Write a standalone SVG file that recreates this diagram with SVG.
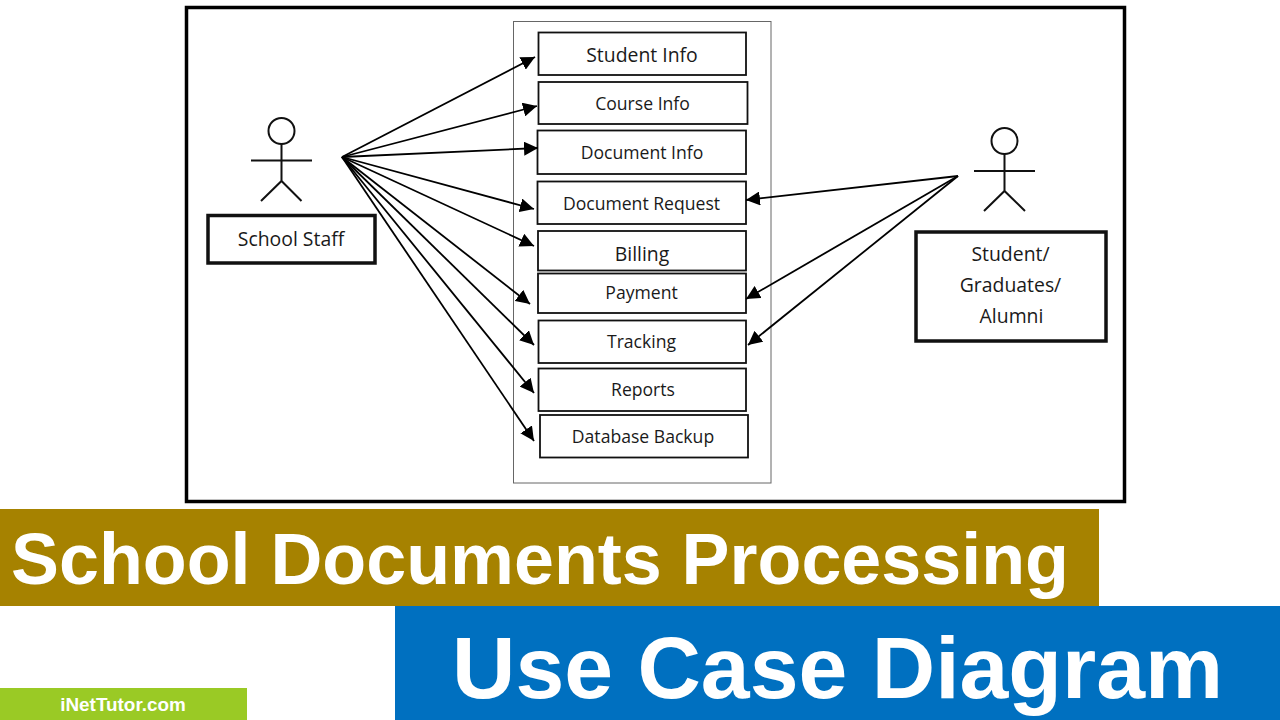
<svg xmlns="http://www.w3.org/2000/svg" width="1280" height="720" viewBox="0 0 1280 720">
<style>
.uc{fill:#fff;stroke:#111;stroke-width:1.800}
.actor{fill:#fff;stroke:#111;stroke-width:3.500}
.stick{fill:none;stroke:#111;stroke-width:2}
.lb{font-family:"Open Sans","Noto Sans",sans-serif;font-size:17.600px;fill:#1a1a1a;text-anchor:middle}
.lg{font-size:19.400px}
.ttl{font-family:"Liberation Sans",Arial,sans-serif;font-weight:bold;fill:#fff}
.c{stroke:#000;stroke-width:1.800;fill:none;marker-end:url(#a)}
</style>
<defs><marker id="a" markerUnits="userSpaceOnUse" markerWidth="14" markerHeight="14" refX="12" refY="6" orient="auto" viewBox="0 0 12 12"><path d="M0 0L12 6L0 12Z" fill="#000"/></marker></defs>
<rect width="1280" height="720" fill="#fff"/>
<rect id="frame" x="186.500" y="7.500" width="938" height="494" fill="#fff" stroke="#000" stroke-width="3.500"/>
<rect id="system" x="513.500" y="21.500" width="257.500" height="461.500" fill="#fff" stroke="#666" stroke-width="1"/>
<g id="n-student-info"><rect class="uc" x="538.500" y="32.500" width="207.500" height="42.500"/><text class="lb lg" x="642" y="62">Student Info</text></g>
<g id="n-course-info"><rect class="uc" x="538.500" y="82" width="209" height="42"/><text class="lb" x="642.500" y="109.500">Course Info</text></g>
<g id="n-document-info"><rect class="uc" x="537.500" y="130.500" width="208.500" height="43.500"/><text class="lb" x="642" y="158.500">Document Info</text></g>
<g id="n-document-request"><rect class="uc" x="537.500" y="181.500" width="208.500" height="42.500"/><text class="lb" x="641.500" y="209.500">Document Request</text></g>
<g id="n-billing"><rect class="uc" x="538" y="231" width="208" height="39.500"/><text class="lb lg" x="642" y="261">Billing</text></g>
<g id="n-payment"><rect class="uc" x="538" y="273.500" width="208" height="39.500"/><text class="lb" x="641.500" y="298.500">Payment</text></g>
<g id="n-tracking"><rect class="uc" x="538.500" y="320.500" width="207.500" height="42.500"/><text class="lb" x="641.500" y="347.500">Tracking</text></g>
<g id="n-reports"><rect class="uc" x="538.500" y="368.500" width="207.500" height="42.500"/><text class="lb" x="643" y="395.500">Reports</text></g>
<g id="n-database-backup"><rect class="uc" x="540" y="415" width="208" height="42.500"/><text class="lb" x="643" y="442.500">Database Backup</text></g>
<g id="n-school-staff">
<circle class="stick" cx="281.500" cy="131" r="13"/><path class="stick" d="M281.500 144V181M251 160.500H312M261 201L281.500 181L301.500 201"/>
<rect class="actor" x="208" y="215.500" width="167" height="47.500"/><text class="lb lg" x="291" y="246">School Staff</text></g>
<g id="n-student">
<circle class="stick" cx="1004.500" cy="141" r="13"/><path class="stick" d="M1004.500 154V191M974 171H1035M984 211L1004.500 191L1025 211"/>
<rect class="actor" x="916" y="232" width="190" height="109"/>
<text class="lb lg" x="1010.500" y="261">Student/</text><text class="lb lg" x="1010.500" y="292">Graduates/</text><text class="lb lg" x="1011.500" y="323">Alumni</text></g>
<g id="connectors">
<path class="c" d="M342 157L535 57"/><path class="c" d="M342 157L537 106"/><path class="c" d="M342 157L538 148"/><path class="c" d="M342 157L534 209"/><path class="c" d="M342 157L534 246"/><path class="c" d="M342 157L530 304"/><path class="c" d="M342 157L534 345"/><path class="c" d="M342 157L534 393"/><path class="c" d="M342 157L534 441"/>
<path class="c" d="M958 176L746 200"/><path class="c" d="M958 176L746 299"/><path class="c" d="M958 176L748 345"/>
</g>
<g id="banner">
<rect x="0" y="509" width="1099" height="97" fill="#A68200"/>
<rect x="395" y="606" width="885" height="114" fill="#0070C0"/>
<rect x="0" y="688" width="247" height="32" fill="#9ACA25"/>
<text class="ttl" x="11" y="584" font-size="71.850">School Documents Processing</text>
<text class="ttl" x="452" y="698" font-size="87.800">Use Case Diagram</text>
<text class="ttl" x="123" y="711" font-size="18.900" text-anchor="middle">iNetTutor.com</text>
</g>
</svg>
